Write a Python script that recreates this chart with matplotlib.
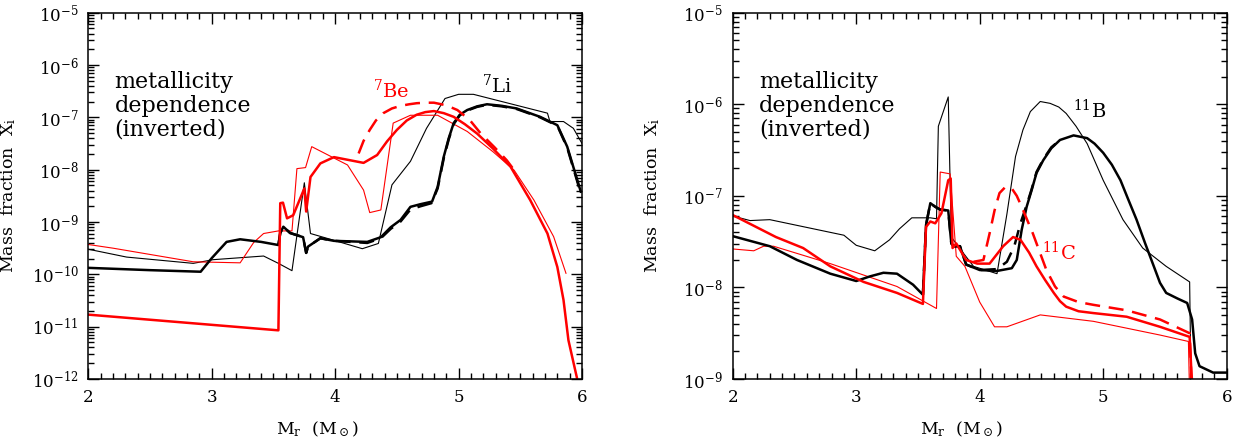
import numpy as np
import matplotlib
matplotlib.use("Agg")
import matplotlib.pyplot as plt
from matplotlib.ticker import MultipleLocator, LogLocator, NullFormatter

plt.rcParams['font.family'] = ['DejaVu Serif']
plt.rcParams['mathtext.fontset'] = 'dejavuserif'

# mass coordinate (Msun) and log10 mass fraction, read per curve
# ---- 7Li / 7Be ----
li7_thick_m = [2.0, 2.5, 2.91, 3.0, 3.12, 3.23, 3.4, 3.54, 3.555, 3.58, 3.635, 3.74, 3.765, 3.78, 3.88, 3.99,
               4.26, 4.37, 4.45, 4.53, 4.61, 4.69, 4.785, 4.83, 4.88, 4.92, 4.96, 5.01, 5.07, 5.15, 5.23, 5.35,
               5.47, 5.66, 5.80, 5.88, 5.99]
li7_thick_lx = [-9.876, -9.92, -9.95, -9.69, -9.38, -9.33, -9.38, -9.44, -9.21, -9.09, -9.21, -9.29, -9.59, -9.47, -9.31, -9.36,
                -9.38, -9.29, -9.10, -8.96, -8.71, -8.66, -8.61, -8.33, -7.75, -7.40, -7.11, -6.95, -6.86, -6.79, -6.75, -6.78,
                -6.83, -6.99, -7.15, -7.56, -8.42]

li7_dash_m = [3.54, 3.555, 3.58, 3.635, 3.74, 3.765, 3.78, 3.88, 3.99, 4.26, 4.37, 4.45, 4.53, 4.61, 4.69, 4.78,
              4.83, 4.88, 4.92, 4.96, 5.01, 5.07, 5.15, 5.23, 5.35, 5.47, 5.66, 5.80, 5.88, 5.99]
li7_dash_lx = [-9.44, -9.21, -9.09, -9.21, -9.29, -9.59, -9.47, -9.31, -9.36, -9.40, -9.31, -9.13, -8.99, -8.76, -8.70, -8.64,
               -8.36, -7.78, -7.42, -7.13, -6.96, -6.87, -6.80, -6.76, -6.79, -6.84, -7.00, -7.16, -7.58, -8.45]

li7_thin_m = [2.0, 2.31, 2.85, 3.01, 3.42, 3.54, 3.65, 3.75, 3.80, 3.99, 4.22, 4.35, 4.46, 4.61, 4.74,
              4.89, 5.0, 5.12, 5.72, 5.74, 5.85, 5.93, 6.0]
li7_thin_lx = [-9.52, -9.67, -9.79, -9.72, -9.65, -9.79, -9.93, -8.25, -9.22, -9.35, -9.51, -9.41, -8.29, -7.84, -7.21,
               -6.64, -6.56, -6.56, -6.92, -7.08, -7.08, -7.21, -7.50]

be7_thick_m = [2.0, 3.54, 3.555, 3.577, 3.61, 3.66, 3.75, 3.765, 3.80, 3.88, 3.99, 4.23, 4.34, 4.42, 4.50, 4.58, 4.66,
               4.73, 4.80, 4.88, 4.96, 5.05, 5.15, 5.28, 5.42, 5.58, 5.72, 5.80, 5.85, 5.89, 5.96, 5.99]
be7_thick_lx = [-10.77, -11.07, -8.64, -8.63, -8.93, -8.87, -8.36, -8.80, -8.14, -7.88, -7.76, -7.87, -7.72, -7.46, -7.24, -7.06, -6.95,
                -6.90, -6.88, -6.92, -6.99, -7.13, -7.31, -7.60, -7.94, -8.58, -9.22, -9.86, -10.49, -11.26, -11.99, -12.3]

be7_dash_m = [4.19, 4.23, 4.28, 4.33, 4.39, 4.46, 4.53, 4.60, 4.66, 4.73, 4.80, 4.90, 4.99, 5.09, 5.18, 5.29, 5.39, 5.47]
be7_dash_lx = [-7.69, -7.45, -7.24, -7.06, -6.92, -6.83, -6.78, -6.75, -6.73, -6.72, -6.72, -6.77, -6.86, -7.05, -7.31, -7.57, -7.82, -8.07]

be7_thin_m = [2.0, 2.2, 2.85, 3.23, 3.34, 3.42, 3.54, 3.65, 3.69, 3.76, 3.81, 4.10, 4.23, 4.28, 4.37, 4.47,
              4.61, 4.83, 5.07, 5.28, 5.45, 5.61, 5.77, 5.87]
be7_thin_lx = [-9.43, -9.50, -9.76, -9.78, -9.39, -9.22, -9.17, -9.17, -7.98, -7.96, -7.56, -7.91, -8.39, -8.82, -8.77, -7.11,
               -6.96, -6.96, -7.27, -7.66, -8.01, -8.58, -9.28, -9.98]

# ---- 11B / 11C ----
b11_thick_m = [2.0, 2.30, 2.52, 2.79, 3.0, 3.11, 3.22, 3.33, 3.46, 3.54, 3.565, 3.60, 3.64, 3.68, 3.745, 3.77,
               3.79, 3.84, 3.89, 4.0, 4.14, 4.26, 4.30, 4.34, 4.38, 4.42, 4.46, 4.515, 4.58, 4.65, 4.76, 4.87,
               4.93, 5.0, 5.07, 5.14, 5.20, 5.27, 5.34, 5.41, 5.46, 5.51, 5.60, 5.68, 5.72, 5.745, 5.78, 5.89, 6.0]
b11_thick_lx = [-7.44, -7.55, -7.70, -7.85, -7.93, -7.88, -7.84, -7.85, -7.97, -8.08, -7.32, -7.08, -7.12, -7.15, -7.16, -7.52,
                -7.55, -7.55, -7.75, -7.81, -7.82, -7.79, -7.70, -7.37, -7.12, -6.94, -6.75, -6.61, -6.48, -6.39, -6.34, -6.37,
                -6.43, -6.53, -6.66, -6.83, -7.03, -7.26, -7.52, -7.77, -7.95, -8.06, -8.12, -8.17, -8.35, -8.72, -8.86, -8.93, -8.93]

b11_dash_m = [3.54, 3.565, 3.60, 3.64, 3.68, 3.745, 3.77, 3.79, 3.84, 3.89, 4.0, 4.14, 4.22, 4.28, 4.33, 4.38, 4.42, 4.46, 4.515, 4.58, 4.65]
b11_dash_lx = [-8.08, -7.32, -7.08, -7.12, -7.15, -7.16, -7.52, -7.55, -7.55, -7.75, -7.81, -7.80, -7.72, -7.55, -7.30, -7.10, -6.93,
               -6.74, -6.60, -6.47, -6.39]

b11_thin_m = [2.0, 2.14, 2.30, 2.90, 3.0, 3.15, 3.27, 3.35, 3.45, 3.60, 3.65, 3.665, 3.745, 3.77, 3.87, 3.95,
              4.14, 4.22, 4.29, 4.35, 4.41, 4.49, 4.57, 4.64, 4.70, 4.78, 4.87, 5.0, 5.16, 5.32, 5.51, 5.70, 5.71]
b11_thin_lx = [-7.22, -7.27, -7.26, -7.43, -7.54, -7.60, -7.48, -7.36, -7.24, -7.24, -7.25, -6.24, -5.92, -7.45, -7.63, -7.77,
               -7.85, -7.20, -6.57, -6.28, -6.08, -5.97, -5.99, -6.03, -6.10, -6.24, -6.43, -6.83, -7.26, -7.57, -7.77, -7.94, -8.94]

c11_thick_m = [2.0, 2.35, 2.57, 2.79, 3.06, 3.33, 3.54, 3.565, 3.60, 3.64, 3.69, 3.745, 3.765, 3.78, 3.81, 3.89,
               3.98, 4.08, 4.19, 4.27, 4.33, 4.40, 4.46, 4.53, 4.60, 4.65, 4.70, 4.80, 4.92, 5.19, 5.46, 5.70, 5.715, 5.73]
c11_thick_lx = [-7.21, -7.45, -7.57, -7.77, -7.94, -8.06, -8.18, -7.34, -7.28, -7.30, -7.19, -6.83, -6.81, -7.57, -7.52, -7.70,
                -7.74, -7.74, -7.55, -7.45, -7.48, -7.62, -7.77, -7.92, -8.06, -8.15, -8.21, -8.26, -8.28, -8.32, -8.43, -8.54, -8.94, -9.2]

c11_dash_m = [3.95, 4.03, 4.08, 4.12, 4.16, 4.21, 4.26, 4.30, 4.34, 4.43, 4.54, 4.61, 4.68, 4.80, 4.92, 5.19, 5.46, 5.70, 5.72]
c11_dash_lx = [-7.72, -7.70, -7.41, -7.16, -6.97, -6.90, -6.92, -7.00, -7.12, -7.41, -7.81, -7.99, -8.10, -8.16, -8.19, -8.25,
               -8.35, -8.50, -9.2]

c11_thin_m = [2.0, 2.17, 2.25, 2.33, 2.79, 3.33, 3.65, 3.68, 3.76, 3.81, 3.88, 4.0, 4.12, 4.22, 4.49, 4.92,
              5.46, 5.69, 5.70]
c11_thin_lx = [-7.58, -7.60, -7.55, -7.55, -7.74, -7.99, -8.23, -6.74, -6.76, -7.66, -7.77, -8.16, -8.43, -8.43, -8.30, -8.37,
               -8.52, -8.59, -9.2]

RED = '#ff0000'
THICK = 1.8
THIN = 0.8
DASH = (0, (6, 3.5))


def draw(ax, m, lx, color, lw, ls='-'):
    ax.plot(m, 10.0 ** np.asarray(lx), color=color, lw=lw, ls=ls, solid_joinstyle='round')


def style(ax, ylo, yhi):
    ax.set_xlim(2, 6)
    ax.set_yscale('log')
    ax.set_ylim(ylo, yhi)
    ax.xaxis.set_major_locator(MultipleLocator(1))
    ax.xaxis.set_minor_locator(MultipleLocator(0.1))
    ax.yaxis.set_major_locator(LogLocator(base=10, numticks=20))
    ax.yaxis.set_minor_locator(LogLocator(base=10, subs=np.arange(2, 10), numticks=20))
    ax.yaxis.set_minor_formatter(NullFormatter())
    ax.tick_params(which='both', direction='in', top=True, right=True, labelsize=12, width=1.0)
    ax.tick_params(which='major', length=8, pad=7)
    ax.tick_params(which='minor', length=4)
    for sp in ax.spines.values():
        sp.set_linewidth(1.1)
    ax.set_xlabel(r'$\mathrm{M_r}$  ($\mathrm{M_\odot}$)', fontsize=12.5)
    ax.xaxis.set_label_coords(0.463, -0.11)
    ax.set_ylabel(r'Mass  fraction  $\mathrm{X_i}$', fontsize=12.5)
    ax.yaxis.set_label_coords(-0.143, 0.5)
    ax.text(0.053, 0.84, 'metallicity\ndependence\n(inverted)', transform=ax.transAxes,
            fontsize=16, va='top', ha='left', linespacing=1.1)


fig = plt.figure(figsize=(12.53, 4.45), dpi=100)
ax1 = fig.add_axes([0.0705, 0.1483, 0.394, 0.8232])
ax2 = fig.add_axes([0.5848, 0.1483, 0.3942, 0.8232])

# left: 7Li (black) and 7Be (red)
draw(ax1, li7_thin_m, li7_thin_lx, 'k', THIN)
draw(ax1, be7_thin_m, be7_thin_lx, RED, THIN)
draw(ax1, li7_dash_m, li7_dash_lx, 'k', THICK, DASH)
draw(ax1, li7_thick_m, li7_thick_lx, 'k', THICK)
draw(ax1, be7_dash_m, be7_dash_lx, RED, THICK, DASH)
draw(ax1, be7_thick_m, be7_thick_lx, RED, THICK)
style(ax1, 1e-12, 1e-5)
ax1.text(4.45, 2.4e-7, r'$^{7}$Be', color=RED, fontsize=14, ha='center', va='baseline')
ax1.text(5.31, 3.0e-7, r'$^{7}$Li', color='k', fontsize=14, ha='center', va='baseline')

# right: 11B (black) and 11C (red)
draw(ax2, b11_thin_m, b11_thin_lx, 'k', THIN)
draw(ax2, c11_thin_m, c11_thin_lx, RED, THIN)
draw(ax2, b11_dash_m, b11_dash_lx, 'k', THICK, DASH)
draw(ax2, b11_thick_m, b11_thick_lx, 'k', THICK)
draw(ax2, c11_dash_m, c11_dash_lx, RED, THICK, DASH)
draw(ax2, c11_thick_m, c11_thick_lx, RED, THICK)
style(ax2, 1e-9, 1e-5)
ax2.text(4.89, 7.1e-7, r'$^{11}$B', color='k', fontsize=14, ha='center', va='baseline')
ax2.text(4.64, 2.0e-8, r'$^{11}$C', color=RED, fontsize=14, ha='center', va='baseline')

fig.savefig('out.png', dpi=100)
